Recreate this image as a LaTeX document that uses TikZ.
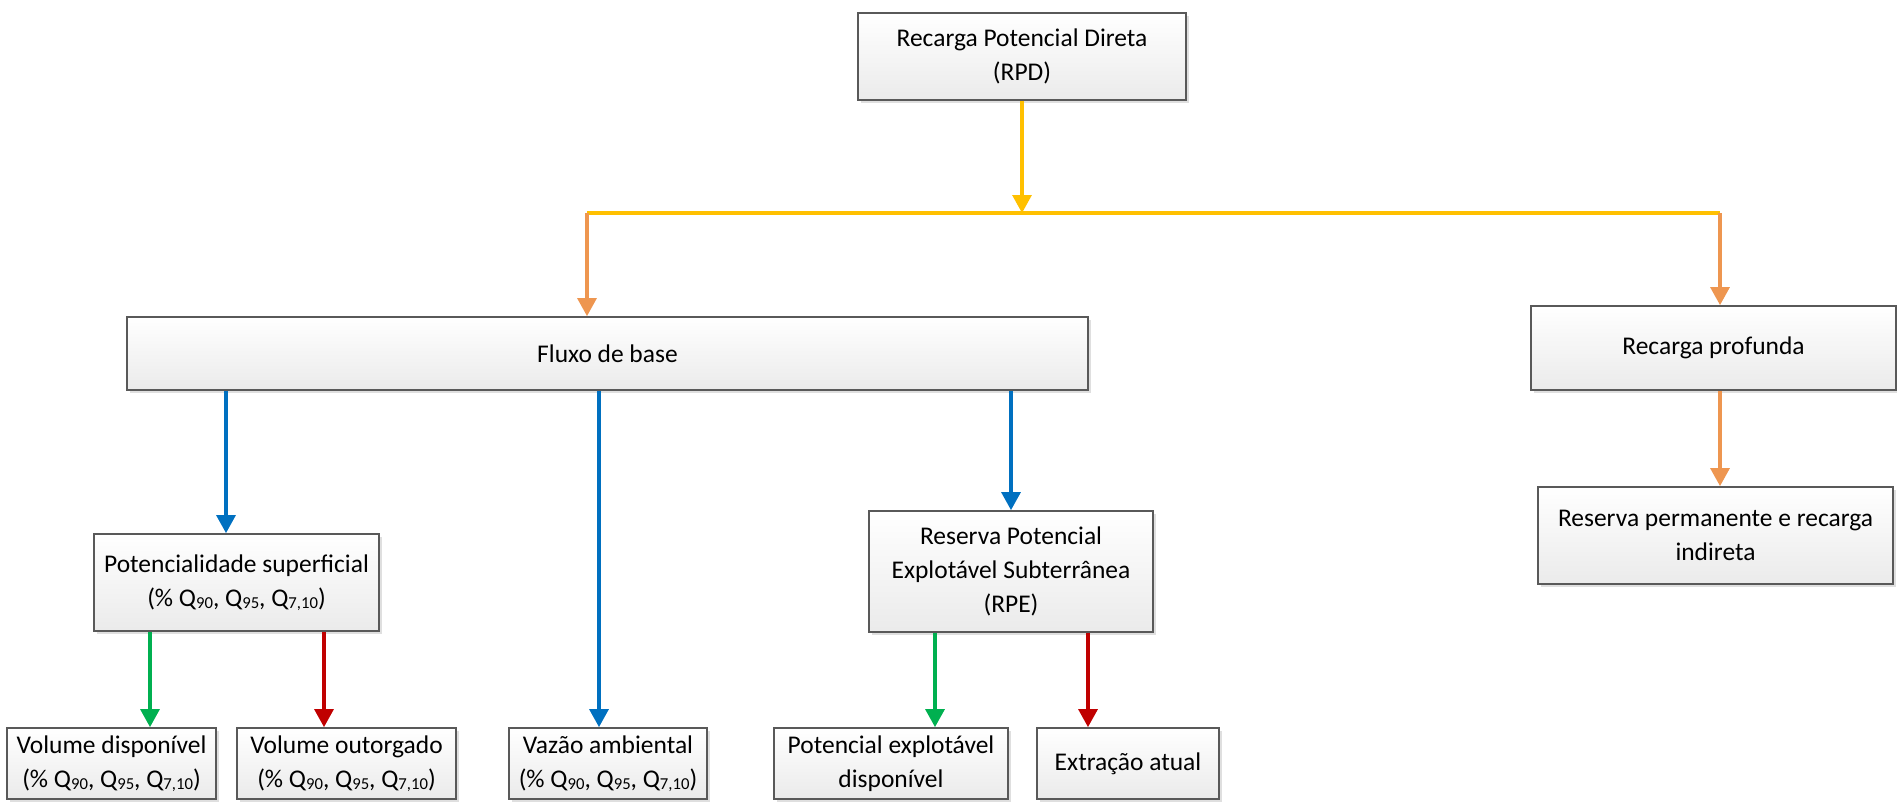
\documentclass[tikz,border=0pt]{standalone}
\usepackage{fontspec}
\setmainfont{Carlito}
\usetikzlibrary{arrows.meta, shadows}

\definecolor{lineyellow}{HTML}{FFC000}
\definecolor{lineorange}{HTML}{EE9650}
\definecolor{lineblue}{HTML}{0070C0}
\definecolor{linegreen}{HTML}{00B050}
\definecolor{linered}{HTML}{C00000}

\newcommand{\qsub}[1]{Q{\fontsize{9.5}{10}\selectfont\raisebox{-0.8pt}{#1}}}

\begin{document}
\begin{tikzpicture}[
  box/.style={rectangle, draw=black!65, line width=1pt, align=center,
              top color=white, bottom color=black!8, inner sep=2pt,
              font=\fontsize{14.5}{19.5}\selectfont,
              drop shadow={shadow xshift=1.5pt, shadow yshift=-1.5pt, opacity=0.25}},
  link/.style={line width=1.8pt, -{Triangle[width=0.38cm, length=0.36cm]}},
  plain/.style={line width=1.8pt}
]
\useasboundingbox (0,0) rectangle (37.94,-16.02);

% top level
\node[box, minimum width=6.56cm, minimum height=1.74cm] (rpd) at (20.44,-1.13)
  {Recarga Potencial Direta\\(RPD)};

% second level
\node[box, minimum width=19.22cm, minimum height=1.46cm] (fluxo) at (12.15,-7.07)
  {Fluxo de base};
\node[box, minimum width=7.30cm, minimum height=1.68cm] (prof) at (34.27,-6.96)
  {Recarga profunda};

% third level
\node[box, minimum width=5.70cm, minimum height=1.94cm] (pot) at (4.73,-11.65)
  {Potencialidade superficial\\(\% \qsub{90}, \qsub{95}, \qsub{7,10})};
\node[box, minimum width=5.68cm, minimum height=2.42cm] (rpe) at (20.22,-11.43)
  {Reserva Potencial\\Explotável Subterrânea\\(RPE)};
\node[box, minimum width=7.10cm, minimum height=1.94cm] (perm) at (34.31,-10.71)
  {Reserva permanente e recarga\\indireta};

% bottom level
\node[box, minimum width=4.18cm, minimum height=1.42cm] (voldisp) at (2.23,-15.27)
  {Volume disponível\\(\% \qsub{90}, \qsub{95}, \qsub{7,10})};
\node[box, minimum width=4.38cm, minimum height=1.42cm] (volout) at (6.93,-15.27)
  {Volume outorgado\\(\% \qsub{90}, \qsub{95}, \qsub{7,10})};
\node[box, minimum width=3.96cm, minimum height=1.42cm] (vazao) at (12.16,-15.27)
  {Vazão ambiental\\(\% \qsub{90}, \qsub{95}, \qsub{7,10})};
\node[box, minimum width=4.68cm, minimum height=1.42cm] (potexp) at (17.82,-15.27)
  {Potencial explotável\\disponível};
\node[box, minimum width=3.64cm, minimum height=1.42cm] (extr) at (22.56,-15.27)
  {Extração atual};

% split point under RPD
\coordinate (jmid) at (20.44,-4.26);
\coordinate (jleft) at (11.74,-4.26);
\coordinate (jright) at (34.40,-4.26);

% columns of the vertical arrows
\coordinate (colpot) at (4.52,0);
\coordinate (colvaz) at (11.98,0);
\coordinate (colrpe) at (20.22,0);
\coordinate (potg) at (3.00,0);
\coordinate (potr) at (6.48,0);
\coordinate (rpeg) at (18.70,0);
\coordinate (rper) at (21.76,0);

% RPD split
\draw[link, lineyellow] (rpd.south) -- (jmid);
\draw[plain, lineyellow] (jleft) -- (jright);
\draw[link, lineorange] (jleft) -- (jleft |- fluxo.north);
\draw[link, lineorange] (jright) -- (jright |- prof.north);
\draw[link, lineorange] (jright |- prof.south) -- (jright |- perm.north);

% Fluxo de base
\draw[link, lineblue] (colpot |- fluxo.south) -- (colpot |- pot.north);
\draw[link, lineblue] (colvaz |- fluxo.south) -- (colvaz |- vazao.north);
\draw[link, lineblue] (colrpe |- fluxo.south) -- (colrpe |- rpe.north);

% Potencialidade superficial
\draw[link, linegreen] (potg |- pot.south) -- (potg |- voldisp.north);
\draw[link, linered] (potr |- pot.south) -- (potr |- volout.north);

% RPE
\draw[link, linegreen] (rpeg |- rpe.south) -- (rpeg |- potexp.north);
\draw[link, linered] (rper |- rpe.south) -- (rper |- extr.north);

\end{tikzpicture}
\end{document}
